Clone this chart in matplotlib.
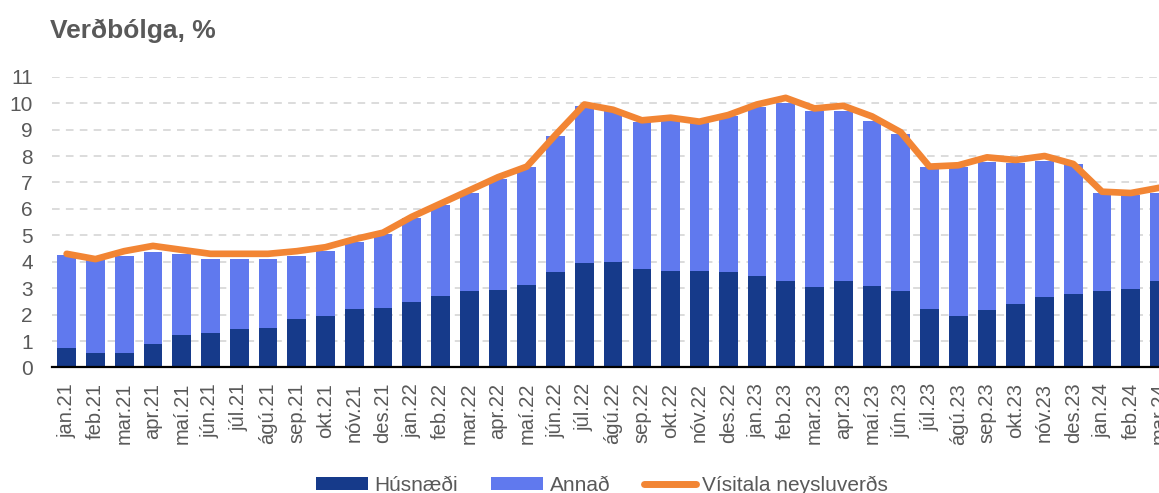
import matplotlib
matplotlib.use("Agg")
import matplotlib.pyplot as plt
from matplotlib.patches import Patch
from matplotlib.lines import Line2D
import numpy as np

plt.rcParams['font.family'] = ['Liberation Sans', 'DejaVu Sans']
plt.rcParams['lines.scale_dashes'] = False

months = ["jan.21", "feb.21", "mar.21", "apr.21", "maí.21", "jún.21", "júl.21", "ágú.21",
          "sep.21", "okt.21", "nóv.21", "des.21",
          "jan.22", "feb.22", "mar.22", "apr.22", "maí.22", "jún.22", "júl.22", "ágú.22",
          "sep.22", "okt.22", "nóv.22", "des.22",
          "jan.23", "feb.23", "mar.23", "apr.23", "maí.23", "jún.23", "júl.23", "ágú.23",
          "sep.23", "okt.23", "nóv.23", "des.23",
          "jan.24", "feb.24", "mar.24"]

husnaedi = [0.72, 0.53, 0.53, 0.90, 1.24, 1.31, 1.47, 1.50, 1.84, 1.96, 2.21, 2.26,
            2.48, 2.70, 2.90, 2.94, 3.13, 3.62, 3.96, 3.99, 3.72, 3.65, 3.65, 3.63,
            3.47, 3.28, 3.06, 3.28, 3.10, 2.90, 2.22, 1.96, 2.17, 2.41, 2.67, 2.79,
            2.90, 2.97, 3.28]

total = [4.25, 4.06, 4.21, 4.37, 4.31, 4.12, 4.12, 4.12, 4.22, 4.41, 4.75, 5.06,
         5.65, 6.13, 6.61, 7.14, 7.58, 8.75, 9.88, 9.72, 9.28, 9.35, 9.25, 9.53,
         9.84, 9.99, 9.72, 9.72, 9.34, 8.84, 7.60, 7.58, 7.77, 7.74, 7.83, 7.70,
         6.61, 6.51, 6.61]

annad = [t - h for t, h in zip(total, husnaedi)]

visitala = [4.3, 4.1, 4.4, 4.6, 4.45, 4.3, 4.3, 4.3, 4.4, 4.55, 4.85, 5.1,
            5.7, 6.2, 6.7, 7.2, 7.6, 8.8, 9.95, 9.75, 9.35, 9.45, 9.3, 9.55,
            9.95, 10.2, 9.8, 9.9, 9.5, 8.9, 7.6, 7.65, 7.95, 7.85, 8.0, 7.7,
            6.65, 6.6, 6.8]

dark = "#163a8a"
light = "#6079ee"
orange = "#f28534"
txt = "#595959"

fig = plt.figure(figsize=(11.59, 4.93), dpi=100)
ax = fig.add_axes([0.0451, 0.2546, 0.9678, 0.5898])

x = np.arange(len(months))
ax.bar(x, husnaedi, width=0.65, color=dark, zorder=2)
ax.bar(x, annad, width=0.65, bottom=husnaedi, color=light, zorder=2)
ax.plot(x, visitala, color=orange, linewidth=4.8, solid_capstyle='round',
        solid_joinstyle='round', zorder=3)

ax.set_xlim(-0.5, len(months) - 0.5)
ax.set_ylim(0, 11)
ax.set_yticks(range(0, 12))
ax.set_xticks(x)
ax.set_xticklabels(months, rotation=90)
ax.tick_params(axis='y', length=0, pad=14, labelsize=15, labelcolor=txt)
ax.tick_params(axis='x', length=0, pad=11, labelsize=14.5, labelcolor=txt)

ax.grid(axis='y', color='#d9d9d9', linewidth=1.3, linestyle=(0, (5.5, 4.5)))
ax.set_axisbelow(True)
for s in ['top', 'right', 'left']:
    ax.spines[s].set_visible(False)
ax.spines['bottom'].set_color('black')
ax.spines['bottom'].set_linewidth(1.6)
ax.spines['bottom'].set_zorder(4)

fig.text(50 / 1159, 1 - 38 / 493, "Verðbólga, %", fontsize=19, fontweight='bold',
         color=txt, ha='left', va='baseline')

handles = [Patch(facecolor=dark), Patch(facecolor=light),
           Line2D([0], [0], color=orange, linewidth=5, solid_capstyle='round')]
labels = ["Húsnæði", "Annað", "Vísitala neysluverðs"]
leg = fig.legend(handles, labels, loc='center', bbox_to_anchor=(602 / 1159, 1 - 485 / 493),
                 ncol=3, frameon=False, fontsize=15, handlelength=2.5, handleheight=0.55,
                 handletextpad=0.3, columnspacing=1.6, borderpad=0, borderaxespad=0)
for t in leg.get_texts():
    t.set_color(txt)

fig.savefig("out.png", dpi=100)
